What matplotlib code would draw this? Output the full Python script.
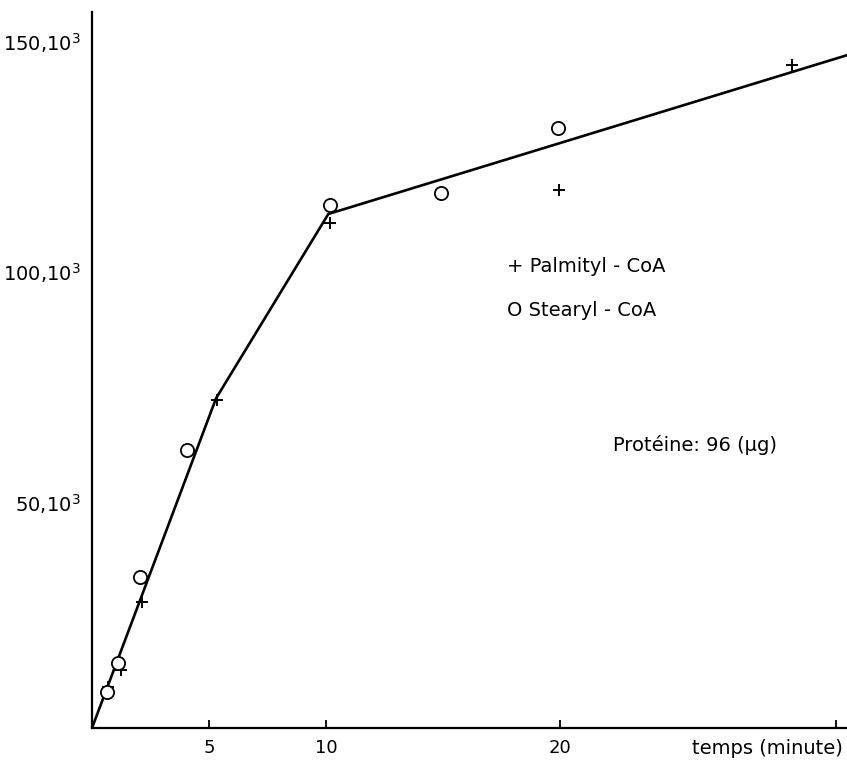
import numpy as np
import matplotlib.pyplot as plt
from matplotlib.transforms import ScaledTranslation

# temps (minute) / radioactivite (x 1000)
palm_t = [0.68, 1.24, 2.14, 5.34, 10.17, 19.96, 29.9]
palm_y = [8.9, 12.6, 27.3, 71.1, 109.5, 116.7, 143.8]

stea_t = [0.64, 1.11, 2.05, 4.06, 10.17, 14.9, 19.9]
stea_y = [7.8, 14.1, 32.8, 60.3, 113.4, 116.1, 130.2]

line_t = [0, 5.3, 10.1, 32.3]
line_y = [0, 71.5, 111.5, 146.0]

xticks = [5, 10, 20]
yticks = [50, 100, 150]
ylabels = [r'50,10$^3$', r'100,10$^3$', r'150,10$^3$']

plt.rcParams['mathtext.default'] = 'regular'
fig = plt.figure(figsize=(8.47, 7.6), dpi=100)
ax = fig.add_axes([92/847, 32/760, 756/847, 716/760])

ax.plot(line_t, line_y, color='black', lw=1.9, solid_capstyle='round')
ax.plot(palm_t, palm_y, ls='none', marker='+', ms=9, mew=1.4, color='black')
ax.plot(stea_t, stea_y, ls='none', marker='o', ms=9.5, mew=1.3,
        mfc='white', mec='black')

ax.set_xlim(0, 756/23.4)
ax.set_ylim(0, 716/4.61)

for s in ['top', 'right']:
    ax.spines[s].set_visible(False)
for s in ['left', 'bottom']:
    ax.spines[s].set_linewidth(1.6)

ax.set_xticks(xticks + [31.8])
ax.set_xticklabels([str(v) for v in xticks] + [''], fontsize=13)
ax.tick_params(axis='x', direction='in', length=6, width=1.3, pad=8)
ax.set_yticks(yticks)
ax.set_yticklabels(ylabels, fontsize=14)
ax.tick_params(axis='y', length=0, pad=8)
for lab in ax.get_yticklabels():
    lab.set_transform(lab.get_transform() + ScaledTranslation(0, -4/100, fig.dpi_scale_trans))

ax.annotate('temps (minute)', xy=(843, 760-748), xycoords='figure pixels',
            ha='right', va='center', fontsize=14)
ax.annotate('+ Palmityl - CoA', xy=(507, 760-267), xycoords='figure pixels',
            ha='left', va='center', fontsize=14)
ax.annotate('O Stearyl - CoA', xy=(507, 760-310), xycoords='figure pixels',
            ha='left', va='center', fontsize=14)
ax.annotate('Protéine: 96 (µg)', xy=(613, 760-445), xycoords='figure pixels',
            ha='left', va='center', fontsize=14)

fig.savefig('out.png', dpi=100)
